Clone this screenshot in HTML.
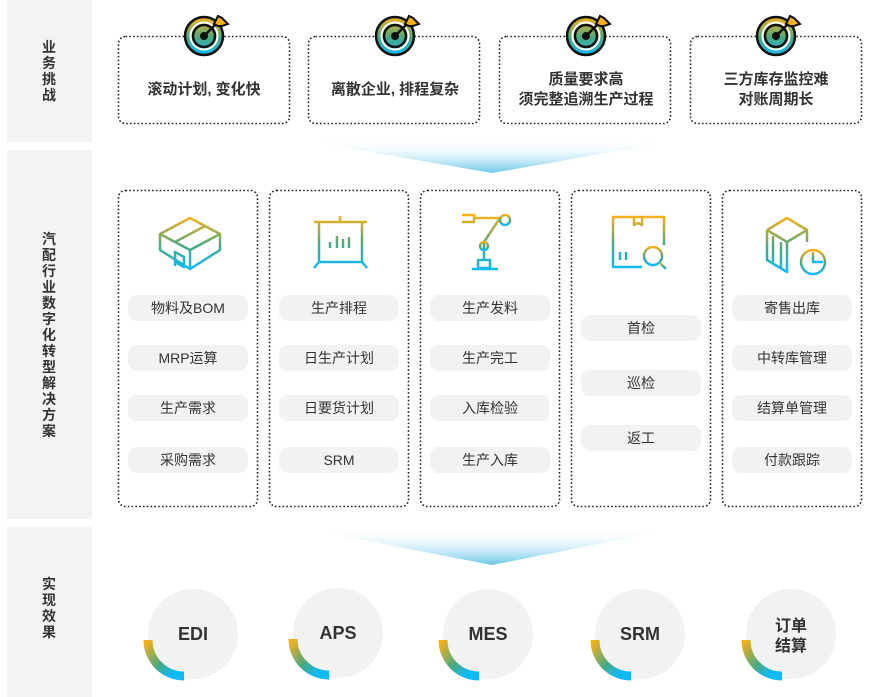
<!DOCTYPE html>
<html><head><meta charset="utf-8"><style>
html,body{margin:0;padding:0;background:#fff;}
svg{display:block;font-family:"Liberation Sans","Noto Sans CJK SC",sans-serif;}
</style></head><body>
<svg width="880" height="697" viewBox="0 0 880 697" xmlns="http://www.w3.org/2000/svg">
<defs>
<linearGradient id="g" x1="0" y1="0" x2="0" y2="1">
<stop offset="0" stop-color="#f6b11a"/><stop offset="0.55" stop-color="#4aa982"/><stop offset="1" stop-color="#10baf5"/>
</linearGradient>
<linearGradient id="fun" x1="0" y1="0" x2="0" y2="1">
<stop offset="0" stop-color="#ffffff" stop-opacity="0"/><stop offset="1" stop-color="#2aaedf" stop-opacity="0.7"/>
</linearGradient>
<linearGradient id="arc" x1="0" y1="0" x2="1" y2="1">
<stop offset="0" stop-color="#f6b11a"/><stop offset="0.5" stop-color="#4aa982"/><stop offset="0.8" stop-color="#10baf5"/>
</linearGradient>
</defs>

<rect x="7" y="0" width="85" height="142" fill="#f3f3f3"/>
<rect x="7" y="150" width="85" height="369" fill="#f3f3f3"/>
<rect x="7" y="527" width="85" height="170" fill="#f3f3f3"/>
<g font-size="14" font-weight="bold" fill="#333" text-anchor="middle">
<text x="49" y="52">业</text><text x="49" y="68">务</text><text x="49" y="84">挑</text><text x="49" y="100">战</text>
<text x="49" y="244">汽</text><text x="49" y="260">配</text><text x="49" y="276">行</text><text x="49" y="292">业</text><text x="49" y="308">数</text><text x="49" y="324">字</text><text x="49" y="340">化</text><text x="49" y="356">转</text><text x="49" y="372">型</text><text x="49" y="388">解</text><text x="49" y="404">决</text><text x="49" y="420">方</text><text x="49" y="436">案</text>
<text x="49" y="589">实</text><text x="49" y="605">现</text><text x="49" y="621">效</text><text x="49" y="637">果</text>
</g>

<polygon points="300,140 680,140 492,173" fill="url(#fun)"/>
<polygon points="300,528 680,528 492,565" fill="url(#fun)"/>

<g fill="none" stroke="#222" stroke-width="1.6" stroke-dasharray="1.6 2.2">
<rect x="118.5" y="36.5" width="171" height="87" rx="7"/>
<rect x="308.5" y="36.5" width="171" height="87" rx="7"/>
<rect x="499.5" y="36.5" width="171" height="87" rx="7"/>
<rect x="690.5" y="36.5" width="171" height="87" rx="7"/>
</g>
<g>
<g transform="translate(204,36)">
<circle r="20" fill="#fff"/><circle r="19" fill="url(#g)" stroke="#111" stroke-width="2.5"/><circle r="11" fill="none" stroke="#111" stroke-width="2.5"/><circle r="13.5" fill="none" stroke="#fff" stroke-width="2"/><circle r="4" fill="#111"/>
<line x1="0" y1="0" x2="14" y2="-14" stroke="#111" stroke-width="2.5"/><polygon points="10,-12 14,-20 18,-18 24,-12 18,-10 14,-10" fill="#f6b11a" stroke="#111" stroke-width="2"/>
</g>
<g transform="translate(395,36)">
<circle r="20" fill="#fff"/><circle r="19" fill="url(#g)" stroke="#111" stroke-width="2.5"/><circle r="11" fill="none" stroke="#111" stroke-width="2.5"/><circle r="13.5" fill="none" stroke="#fff" stroke-width="2"/><circle r="4" fill="#111"/>
<line x1="0" y1="0" x2="14" y2="-14" stroke="#111" stroke-width="2.5"/><polygon points="10,-12 14,-20 18,-18 24,-12 18,-10 14,-10" fill="#f6b11a" stroke="#111" stroke-width="2"/>
</g>
<g transform="translate(586,36)">
<circle r="20" fill="#fff"/><circle r="19" fill="url(#g)" stroke="#111" stroke-width="2.5"/><circle r="11" fill="none" stroke="#111" stroke-width="2.5"/><circle r="13.5" fill="none" stroke="#fff" stroke-width="2"/><circle r="4" fill="#111"/>
<line x1="0" y1="0" x2="14" y2="-14" stroke="#111" stroke-width="2.5"/><polygon points="10,-12 14,-20 18,-18 24,-12 18,-10 14,-10" fill="#f6b11a" stroke="#111" stroke-width="2"/>
</g>
<g transform="translate(776,36)">
<circle r="20" fill="#fff"/><circle r="19" fill="url(#g)" stroke="#111" stroke-width="2.5"/><circle r="11" fill="none" stroke="#111" stroke-width="2.5"/><circle r="13.5" fill="none" stroke="#fff" stroke-width="2"/><circle r="4" fill="#111"/>
<line x1="0" y1="0" x2="14" y2="-14" stroke="#111" stroke-width="2.5"/><polygon points="10,-12 14,-20 18,-18 24,-12 18,-10 14,-10" fill="#f6b11a" stroke="#111" stroke-width="2"/>
</g>
</g>
<g font-size="15" font-weight="bold" fill="#333" text-anchor="middle">
<text x="204" y="94">滚动计划, 变化快</text>
<text x="395" y="94">离散企业, 排程复杂</text>
<text x="586" y="84">质量要求高</text><text x="586" y="104">须完整追溯生产过程</text>
<text x="776" y="84">三方库存监控难</text><text x="776" y="104">对账周期长</text>
</g>

<g fill="none" stroke="#222" stroke-width="1.6" stroke-dasharray="1.6 2.2">
<rect x="118.5" y="190.5" width="139" height="316" rx="7"/>
<rect x="269.5" y="190.5" width="139" height="316" rx="7"/>
<rect x="420.5" y="190.5" width="139" height="316" rx="7"/>
<rect x="571.5" y="190.5" width="139" height="316" rx="7"/>
<rect x="722.5" y="190.5" width="139" height="316" rx="7"/>
</g>
<g fill="none" stroke="url(#g)" stroke-width="2.5" stroke-linejoin="round">
<g transform="translate(160,212)"><path d="M0,22 L30,6 L60,22 L60,38 L30,57 L0,38 Z M0,22 L30,38 L60,22 M30,38 L30,57 M15,30 L45,14 M15,46 L15,54 M15,40 L24,45 L24,55 L15,50Z"/></g>
<g transform="translate(309,214)"><path d="M5,8 H58 M10,8 V48 H53 V8 M31,2 V8 M10,48 L5,54 M53,48 L58,54 M21,34 V28 M28,34 V22 M34,34 V25 M40,34 V23"/></g>
<g transform="translate(462,212)"><path d="M0,3 H12 V10 H0 M12,6 H38 M38,6 L22,30 M22,30 L22,48 M16,48 H28 V56 H16Z M10,57 H36"/><circle cx="43" cy="8" r="5"/><circle cx="22" cy="34" r="4"/></g>
<g transform="translate(612,215)"><path d="M30,52 H1 V2 H52 V30 M22,2 V10 L26,8 L30,10 V2 M8,45 V37 M14,45 V37"/><circle cx="41" cy="41" r="9"/><path d="M48,48 L54,54"/></g>
<g transform="translate(765,212)"><path d="M2,18 L22,6 L42,18 L42,30 M2,18 V48 L22,60 V30 L2,18 M22,30 L42,18 M8,24 V50 M16,30 V56"/><circle cx="48" cy="50" r="12"/><path d="M48,40 V50 H58"/></g>
</g>

<g fill="#f2f2f2">
<rect x="128" y="295" width="120" height="26" rx="9"/><rect x="128" y="345" width="120" height="26" rx="9"/><rect x="128" y="395" width="120" height="26" rx="9"/><rect x="128" y="447" width="120" height="26" rx="9"/>
<rect x="279" y="295" width="120" height="26" rx="9"/><rect x="279" y="345" width="120" height="26" rx="9"/><rect x="279" y="395" width="120" height="26" rx="9"/><rect x="279" y="447" width="120" height="26" rx="9"/>
<rect x="430" y="295" width="120" height="26" rx="9"/><rect x="430" y="345" width="120" height="26" rx="9"/><rect x="430" y="395" width="120" height="26" rx="9"/><rect x="430" y="447" width="120" height="26" rx="9"/>
<rect x="581" y="315" width="120" height="26" rx="9"/><rect x="581" y="370" width="120" height="26" rx="9"/><rect x="581" y="425" width="120" height="26" rx="9"/>
<rect x="732" y="295" width="120" height="26" rx="9"/><rect x="732" y="345" width="120" height="26" rx="9"/><rect x="732" y="395" width="120" height="26" rx="9"/><rect x="732" y="447" width="120" height="26" rx="9"/>
</g>
<g font-size="14" fill="#333" text-anchor="middle">
<text x="188" y="313">物料及BOM</text><text x="188" y="363">MRP运算</text><text x="188" y="413">生产需求</text><text x="188" y="465">采购需求</text>
<text x="339" y="313">生产排程</text><text x="339" y="363">日生产计划</text><text x="339" y="413">日要货计划</text><text x="339" y="465">SRM</text>
<text x="490" y="313">生产发料</text><text x="490" y="363">生产完工</text><text x="490" y="413">入库检验</text><text x="490" y="465">生产入库</text>
<text x="641" y="333">首检</text><text x="641" y="388">巡检</text><text x="641" y="443">返工</text>
<text x="792" y="313">寄售出库</text><text x="792" y="363">中转库管理</text><text x="792" y="413">结算单管理</text><text x="792" y="465">付款跟踪</text>
</g>

<g>
<circle cx="193" cy="634" r="45" fill="#f2f2f2"/>
<circle cx="338" cy="633" r="45" fill="#f2f2f2"/>
<circle cx="488" cy="634" r="45" fill="#f2f2f2"/>
<circle cx="640" cy="634" r="45" fill="#f2f2f2"/>
<circle cx="791" cy="634" r="45" fill="#f2f2f2"/>
</g>
<g fill="none" stroke="url(#arc)" stroke-width="9">
<path d="M148,640 A36,36 0 0 0 184,676"/>
<path d="M293,639 A36,36 0 0 0 329,675"/>
<path d="M443,640 A36,36 0 0 0 479,676"/>
<path d="M595,640 A36,36 0 0 0 631,676"/>
<path d="M746,640 A36,36 0 0 0 782,676"/>
</g>
<g font-size="18" font-weight="bold" fill="#333" text-anchor="middle">
<text x="193" y="640">EDI</text><text x="338" y="639">APS</text><text x="488" y="640">MES</text><text x="640" y="640">SRM</text>
<text x="791" y="631" font-size="16">订单</text><text x="791" y="651" font-size="16">结算</text>
</g>
</svg>
</body></html>
